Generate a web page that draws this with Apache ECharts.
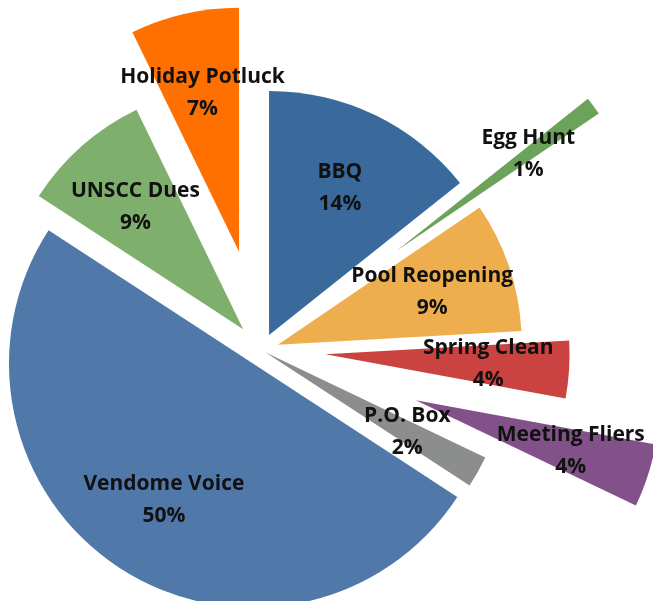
<!DOCTYPE html>
<html><head><meta charset="utf-8">
<script src="https://cdn.jsdelivr.net/npm/echarts@6/dist/echarts.min.js"></script>
<style>html,body{margin:0;padding:0;background:#fff}#chart{width:653px;height:601px}</style>
</head><body><div id="chart"></div>
<script>
const categories = ['BBQ','Egg Hunt','Pool Reopening','Spring Clean','Meeting Fliers','P.O. Box','Vendome Voice','UNSCC Dues','Holiday Potluck'];
const values = [14.3, 1.2, 8.6, 3.8, 4.2, 2.1, 50.0, 8.6, 7.2];

const colors = ['#3A6A9C','#6BA35A','#EEAE4D','#CB4340','#835189','#8C8E8D','#5079A9','#7EAF6C','#FF7000'];
const explode = [17, 168, 17, 64, 162, 4, 16, 28, 101];
const CENTER = [261.7, 350.2];
const R = 244;
const START = 90;

const chart = echarts.init(document.getElementById('chart'), null, {renderer: 'canvas'});
const total = values.reduce((a, b) => a + b, 0);
let cum = 0;
const shiftedCenters = values.map((v, i) => {
  const mid = (START - 360 * (cum + v / 2) / total) * Math.PI / 180;
  cum += v;
  return [CENTER[0] + explode[i] * Math.cos(mid), CENTER[1] - explode[i] * Math.sin(mid)];
});

const base = {
  type: 'pie', startAngle: START, clockwise: true, silent: true, animation: false,
  avoidLabelOverlap: false, emphasis: {disabled: true, scale: false}, labelLine: {show: false}
};
const series = [];
// slices: each exploded by its own offset
for (let i = 0; i < categories.length; i++) {
  series.push(Object.assign({}, base, {
    center: CENTER, radius: [0, R], selectedMode: 'single', selectedOffset: explode[i],
    label: {show: false},
    data: categories.map((c, j) => ({
      name: c, value: values[j], selected: j === i,
      itemStyle: {color: j === i ? colors[j] : 'rgba(0,0,0,0)', borderWidth: 0}
    }))
  }));
}
// labels: same slice geometry, centred on the slice's shifted apex
for (let i = 0; i < categories.length; i++) {
  series.push(Object.assign({}, base, {
    center: shiftedCenters[i], radius: [76, R],
    data: categories.map((c, j) => ({
      name: c, value: values[j],
      itemStyle: {color: 'rgba(0,0,0,0)', borderWidth: 0},
      label: j === i ? {
        show: true, position: 'inside', rotate: 0,
        formatter: p => p.name + '\n' + Math.round(p.percent) + '%',
        fontFamily: 'Open Sans', fontWeight: 'bold', fontSize: 21, lineHeight: 32, color: '#111'
      } : {show: false}
    }))
  }));
}
chart.setOption({animation: false, backgroundColor: '#fff', series});
</script></body></html>
